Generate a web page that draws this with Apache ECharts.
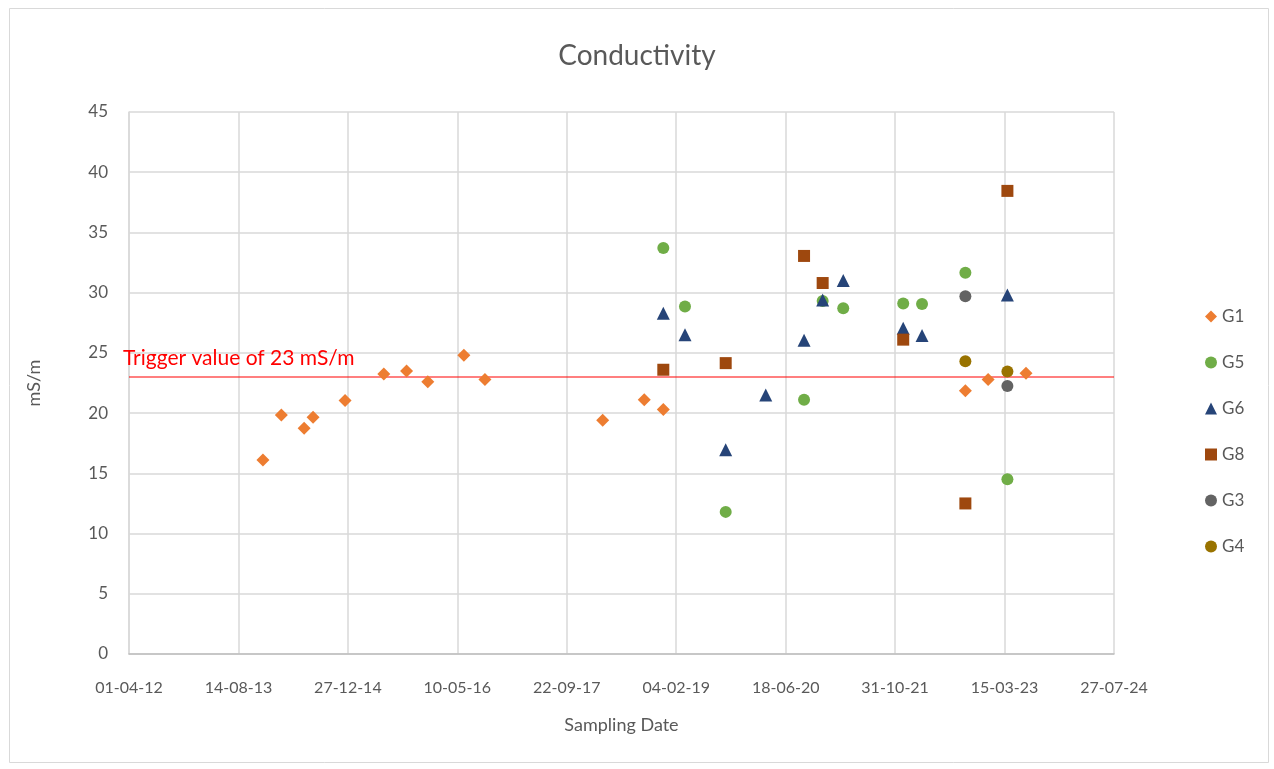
<!DOCTYPE html>
<html>
<head>
<meta charset="utf-8">
<script src="https://cdn.jsdelivr.net/npm/echarts@6/dist/echarts.min.js"></script>
<style>
  html, body { margin: 0; padding: 0; background: #fff; }
  #chart { width: 1274px; height: 769px; }
</style>
</head>
<body>
<div id="chart"></div>
<script>
// Conductivity readings per monitoring bore: [sampling date, mS/m]
const G1 = [
  ['2013-12-04', 16.1], ['2014-02-26', 19.85], ['2014-06-10', 18.75], ['2014-07-21', 19.65],
  ['2014-12-14', 21.05], ['2015-06-09', 23.25], ['2015-09-21', 23.5], ['2015-12-27', 22.6],
  ['2016-06-09', 24.8], ['2016-09-13', 22.8], ['2018-03-05', 19.4], ['2018-09-11', 21.1],
  ['2018-12-07', 20.3], ['2022-09-17', 21.85], ['2022-12-30', 22.8], ['2023-06-21', 23.3]
];
const G5 = [
  ['2018-12-07', 33.7], ['2019-03-16', 28.85], ['2019-09-18', 11.8], ['2020-09-10', 21.1],
  ['2020-12-04', 29.3], ['2021-03-08', 28.7], ['2021-12-07', 29.1], ['2022-03-03', 29.05],
  ['2022-09-17', 31.65], ['2023-03-28', 14.5]
];
const G6 = [
  ['2018-12-07', 28.3], ['2019-03-16', 26.5], ['2019-09-18', 16.95], ['2020-03-19', 21.5],
  ['2020-09-10', 26.05], ['2020-12-04', 29.4], ['2021-03-08', 31.0], ['2021-12-07', 27.05],
  ['2022-03-03', 26.45], ['2023-03-28', 29.8]
];
const G8 = [
  ['2018-12-07', 23.6], ['2019-09-18', 24.15], ['2020-09-10', 33.05], ['2020-12-04', 30.8],
  ['2021-12-07', 26.1], ['2022-09-17', 12.5], ['2023-03-28', 38.45]
];
const G3 = [['2022-09-17', 29.7], ['2023-03-28', 22.25]];
const G4 = [['2022-09-17', 24.3], ['2023-03-28', 23.45]];

const TRIGGER = 23;
const TRIGGER_LABEL = 'Trigger value of 23 mS/m';

// date axis: days counted from the first tick date, ticks every 500 days
const AXIS_START = '2012-04-01';
const TICK_DAYS = 500;
const TICK_COUNT = 9;

const DAY = 86400000;
const startMs = Date.parse(AXIS_START + 'T00:00:00Z');
const toDays = s => Math.round((Date.parse(s + 'T00:00:00Z') - startMs) / DAY);
const toPoints = rows => rows.map(r => [toDays(r[0]), r[1]]);
const pad = n => (n < 10 ? '0' : '') + n;
const fmtDay = d => {
  const t = new Date(startMs + d * DAY);
  return pad(t.getUTCDate()) + '-' + pad(t.getUTCMonth() + 1) + '-' + pad(t.getUTCFullYear() % 100);
};

const FONT = 'Lato, "Open Sans", sans-serif';
const TXT = '#595959';
const RED = '#FF0000';
const X_MAX = TICK_DAYS * TICK_COUNT;

const seriesDefs = [
  { name: 'G1', data: G1, color: '#ED7D31', symbol: 'diamond', size: 13 },
  { name: 'G5', data: G5, color: '#70AD47', symbol: 'circle', size: 12 },
  { name: 'G6', data: G6, color: '#264478', symbol: 'triangle', size: 13 },
  { name: 'G8', data: G8, color: '#9E480E', symbol: 'rect', size: 12 },
  { name: 'G3', data: G3, color: '#636363', symbol: 'circle', size: 12 },
  { name: 'G4', data: G4, color: '#997300', symbol: 'circle', size: 12 }
];

const series = seriesDefs.map((s, i) => ({
  name: s.name,
  type: 'scatter',
  data: toPoints(s.data),
  symbol: s.symbol,
  symbolSize: s.size,
  itemStyle: { color: s.color, opacity: 1 },
  emphasis: { disabled: true },
  z: 3 + i
}));

// horizontal trigger threshold spanning the whole date range
series.push({
  name: 'trigger',
  type: 'line',
  silent: true,
  z: 2,
  symbol: 'circle',
  symbolSize: 0,
  showSymbol: true,
  lineStyle: { color: RED, width: 1.2 },
  itemStyle: { color: RED },
  emphasis: { disabled: true },
  data: [
    {
      value: [0, TRIGGER],
      label: {
        show: true,
        formatter: TRIGGER_LABEL,
        position: [-6, -29],
        align: 'left',
        verticalAlign: 'top',
        color: RED,
        fontFamily: FONT,
        fontSize: 21
      }
    },
    { value: [X_MAX, TRIGGER] }
  ]
});

const chart = echarts.init(document.getElementById('chart'), null, { renderer: 'canvas' });
chart.setOption({
  animation: false,
  backgroundColor: '#fff',
  title: {
    text: 'Conductivity',
    left: 'center',
    top: 37,
    textStyle: { fontFamily: FONT, fontSize: 28, fontWeight: 'normal', color: TXT }
  },
  graphic: [{
    type: 'rect',
    shape: { x: 9.5, y: 8.5, width: 1259, height: 754 },
    style: { fill: 'none', stroke: '#d9d9d9', lineWidth: 1 },
    silent: true
  }],
  legend: {
    orient: 'vertical',
    left: 1200,
    top: 303,
    itemWidth: 12,
    itemHeight: 12,
    itemGap: 29,
    textStyle: { fontFamily: FONT, fontSize: 17, color: TXT },
    data: seriesDefs.map(s => s.name)
  },
  grid: { left: 129, right: 160, top: 112, bottom: 115 },
  xAxis: {
    type: 'value',
    min: 0,
    max: X_MAX,
    interval: TICK_DAYS,
    name: 'Sampling Date',
    nameLocation: 'middle',
    nameGap: 62,
    nameTextStyle: { fontFamily: FONT, fontSize: 18, color: TXT },
    axisLine: { show: true, lineStyle: { color: '#bfbfbf', width: 1.5 } },
    axisTick: { show: false },
    axisLabel: { formatter: v => fmtDay(v), fontFamily: FONT, fontSize: 16, color: TXT, margin: 26 },
    splitLine: { show: true, lineStyle: { color: '#d9d9d9', width: 1.5 } }
  },
  yAxis: {
    type: 'value',
    min: 0,
    max: 45,
    interval: 5,
    name: 'mS/m',
    nameLocation: 'middle',
    nameGap: 86,
    nameTextStyle: { fontFamily: FONT, fontSize: 18, color: TXT },
    axisLine: { show: true, lineStyle: { color: '#d9d9d9', width: 1.5 } },
    axisTick: { show: false },
    axisLabel: { fontFamily: FONT, fontSize: 17, color: TXT, margin: 21 },
    splitLine: { show: true, lineStyle: { color: '#d9d9d9', width: 1.5 } }
  },
  series: series
});
</script>
</body>
</html>
